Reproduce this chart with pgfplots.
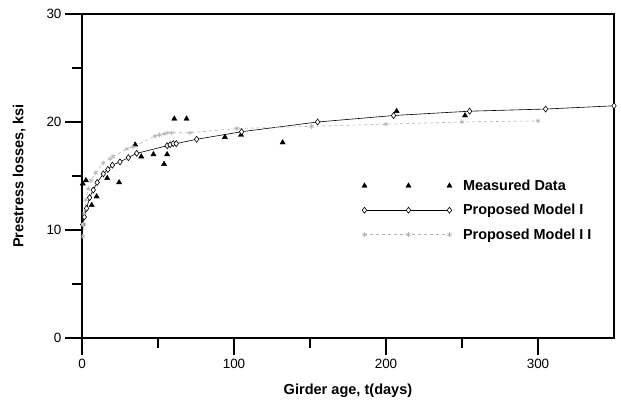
\documentclass[border=0pt]{standalone}
\usepackage{fontspec}
\setmainfont{Liberation Sans}
\usepackage{pgfplots}
\pgfplotsset{compat=1.18}
\pgfplotstableread{
t y
0.5 14.3
2.6 14.6
6.4 12.3
9.6 13.1
16.6 14.8
24.4 14.4
35 17.9
39 16.8
47 17.0
54 16.1
56 17.0
60.7 20.3
68.8 20.3
94 18.6
104.6 18.8
132 18.1
207 21.0
252 20.6
}\measured
\pgfplotstableread{
t y
0.5 10.5
1.5 11.2
3 12.0
5 13.0
7.4 13.7
10 14.4
14 15.2
17 15.6
20 16.0
25 16.3
30.5 16.7
36 17.1
56 17.8
58 17.9
60 18.0
62 18.0
75.4 18.4
105 19.1
155 20.0
205 20.6
255 21.0
305 21.2
350 21.5
}\modelone
\pgfplotstableread{
t y
0.5 9.4
1 10.5
1.5 11.5
2.5 12.8
4 13.8
6 14.6
9 15.3
14 16.2
18.5 16.6
20.4 16.8
29.5 17.5
33.6 17.7
48 18.7
51 18.8
54 18.9
56 19.0
59 19.0
71 19.0
102 19.4
151 19.6
200 19.8
250 20.0
300 20.1
}\modeltwo
\begin{document}
\begin{tikzpicture}
\path[use as bounding box] (0,0) rectangle (621bp,401bp);
\begin{axis}[
  at={(82bp,63bp)}, anchor=south west, scale only axis,
  width=532bp, height=324bp,
  xmin=0, xmax=350, ymin=0, ymax=30,
  xtick={0,100,200,300}, minor xtick={50,150,250},
  ytick={0,10,20,30}, minor ytick={5,15,25},
  tick pos=left, tick align=outside,
  major tick length=17bp, minor tick length=10bp,
  axis line style={line width=1.8bp},
  every tick/.style={black, line width=1.5bp},
  /pgf/number format/assume math mode=true,
  ticklabel style={font=\fontsize{13.5}{15}\selectfont},
  xticklabel style={yshift=-1bp},
  xlabel={Girder age, t(days)},
  ylabel={Prestress losses, ksi},
  label style={font=\bfseries\fontsize{14.6}{16}\selectfont},
  xlabel style={at={(axis description cs:0.5,-0.163)}, anchor=center},
  ylabel style={at={(axis description cs:-0.118,0.5)}, anchor=center},
  legend style={at={(axis cs:184,14.85)}, anchor=north west, draw=none, fill=none,
    font=\bfseries\fontsize{14.5}{16}\selectfont, row sep=8.5bp, inner sep=0pt,
    /tikz/every odd column/.append style={column sep=9bp}},
  legend cell align=left,
]
\addplot[only marks, mark=triangle*, mark size=3bp, black,
  legend image code/.code={\draw[black, only marks, mark=triangle*, mark size=3bp] plot coordinates {(0bp,0bp) (44bp,0bp) (85bp,0bp)};}]
  table[x=t,y=y] {\measured};
\addlegendentry{Measured Data}
\addplot[black, line width=0.6bp, mark=diamond*, mark size=3bp, mark options={fill=white},
  legend image code/.code={\draw[black, line width=0.6bp, mark=diamond*, mark size=3bp, mark options={fill=white}] plot coordinates {(0bp,0bp) (44bp,0bp) (85bp,0bp)};}]
  table[x=t,y=y] {\modelone};
\addlegendentry{Proposed Model I}
\addplot[gray!60, line width=0.6bp, dashed, mark=asterisk, mark size=2.5bp, mark options={solid},
  legend image code/.code={\draw[gray!60, line width=0.6bp, dashed, mark=asterisk, mark size=2.5bp, mark options={solid}] plot coordinates {(0bp,0bp) (44bp,0bp) (85bp,0bp)};}]
  table[x=t,y=y] {\modeltwo};
\addlegendentry{Proposed Model I I}
\end{axis}
\end{tikzpicture}
\end{document}
